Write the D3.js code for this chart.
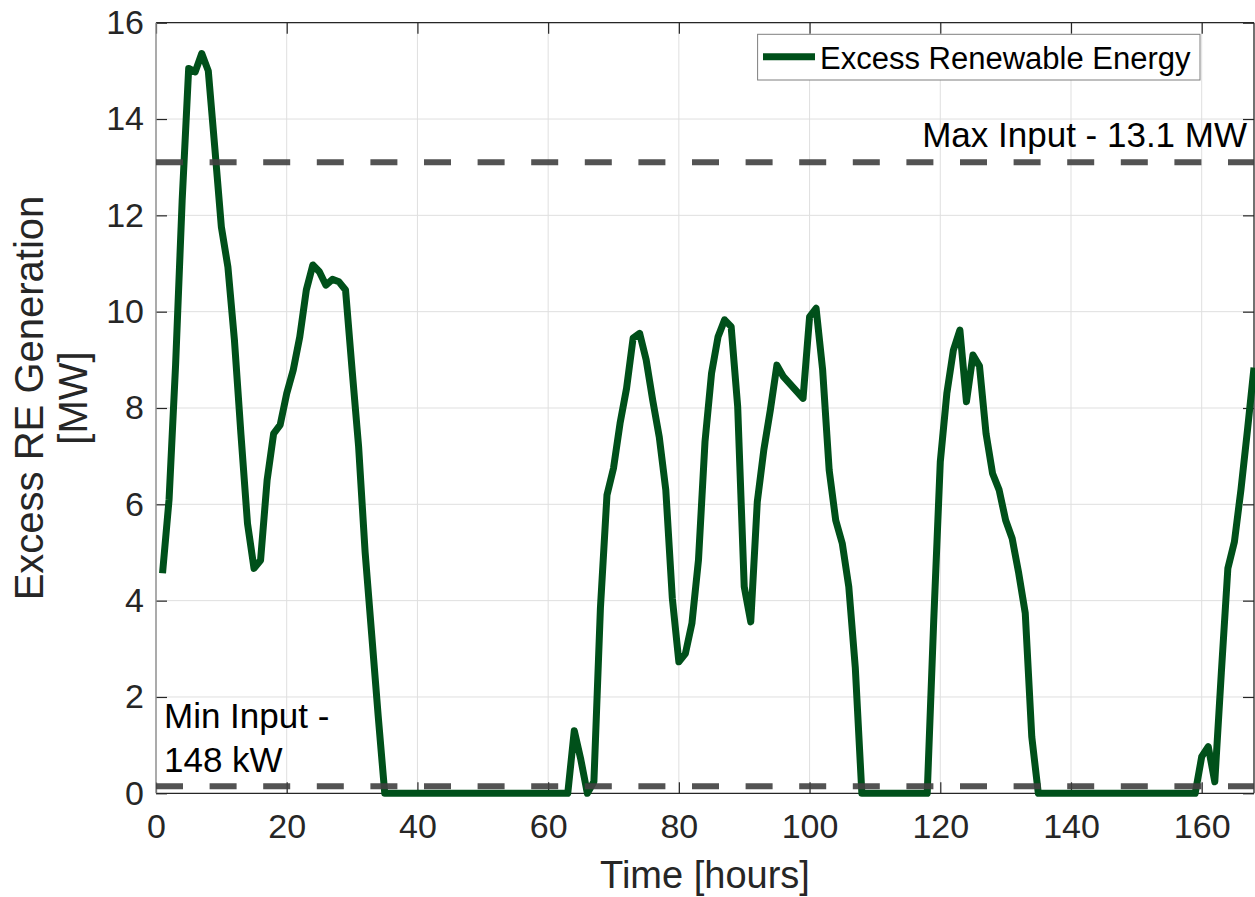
<!DOCTYPE html>
<html>
<head>
<meta charset="utf-8">
<script src="https://cdn.jsdelivr.net/npm/d3@7"></script>
<style>
  body { margin: 0; background: #fff; }
  text { font-family: "Liberation Sans", Arial, sans-serif; }
</style>
</head>
<body>
<div id="chart"></div>
<script>
// Excess renewable energy, one value per hour (hours 1..168), MW
let excessMW = [
  4.57, 6.1, 8.9, 12.3, 15.05, 14.98, 15.36, 15.0, 13.4, 11.76,
  10.93, 9.41, 7.45, 5.6, 4.67, 4.84, 6.5, 7.47, 7.65, 8.3,
  8.79, 9.48, 10.45, 10.97, 10.83, 10.55, 10.67, 10.62, 10.45, 8.8,
  7.2, 5.0, 3.3, 1.6, 0, 0, 0, 0, 0, 0,
  0, 0, 0, 0, 0, 0, 0, 0, 0, 0,
  0, 0, 0, 0, 0, 0, 0, 0, 0, 0,
  0, 0, 0, 1.3, 0.7, 0, 0.24, 3.85, 6.19, 6.75,
  7.68, 8.41, 9.45, 9.55, 9.0, 8.16, 7.4, 6.3, 4.05, 2.73,
  2.9, 3.53, 4.84, 7.3, 8.72, 9.48, 9.83, 9.69, 8.03, 4.29,
  3.56, 6.05, 7.13, 7.96, 8.89, 8.65, 8.5, 8.35, 8.2, 9.89,
  10.07, 8.79, 6.71, 5.67, 5.19, 4.29, 2.6, 0, 0, 0,
  0, 0, 0, 0, 0, 0, 0, 0, 3.6, 6.88,
  8.3, 9.2, 9.62, 8.13, 9.1, 8.87, 7.47, 6.64, 6.3, 5.67,
  5.29, 4.57, 3.74, 1.17, 0, 0, 0, 0, 0, 0,
  0, 0, 0, 0, 0, 0, 0, 0, 0, 0,
  0, 0, 0, 0, 0, 0, 0, 0, 0, 0.76,
  0.97, 0.24, 2.5, 4.67, 5.22, 6.3, 7.54, 8.84
];

// electrolyser limits (MW)
let maxInput = 13.1;
let minInput = 0.148;

let xTicks = [0, 20, 40, 60, 80, 100, 120, 140, 160];
let yTicks = [0, 2, 4, 6, 8, 10, 12, 14, 16];

let width = 1255;
let height = 897;
let margin = {top: 22.7, right: 1, left: 156, bottom: 103.7};

let x = d3.scaleLinear().domain([0, 168]).range([margin.left, width - margin.right]);
let y = d3.scaleLinear().domain([0, 16]).range([height - margin.bottom, margin.top]);

let svg = d3.select("#chart").append("svg")
  .attr("width", width)
  .attr("height", height);

// grid
svg.append("g").selectAll("line.gx")
  .data(xTicks.slice(1))
  .enter().append("line")
  .attr("x1", d => x(d)).attr("x2", d => x(d))
  .attr("y1", y(0)).attr("y2", y(16))
  .attr("stroke", "#dfdfdf").attr("stroke-width", 1);

svg.append("g").selectAll("line.gy")
  .data(yTicks.slice(1))
  .enter().append("line")
  .attr("x1", x(0)).attr("x2", x(168))
  .attr("y1", d => y(d)).attr("y2", d => y(d))
  .attr("stroke", "#dfdfdf").attr("stroke-width", 1);

// axes, matlab style ticks pointing inwards
function styleAxis(g) {
  g.select(".domain").remove();
  g.selectAll(".tick line").attr("stroke", "#262626").attr("stroke-width", 1.2);
  g.selectAll(".tick text").attr("fill", "#262626").style("font-size", "34px");
}

svg.append("g")
  .attr("transform", "translate(0," + y(0) + ")")
  .call(d3.axisBottom(x).tickValues(xTicks).tickSizeInner(-11).tickSizeOuter(0).tickPadding(21))
  .call(styleAxis);

svg.append("g")
  .attr("transform", "translate(0," + y(16) + ")")
  .call(d3.axisTop(x).tickValues(xTicks).tickSizeInner(-11).tickSizeOuter(0).tickFormat(""))
  .call(styleAxis);

svg.append("g")
  .attr("transform", "translate(" + x(0) + ",0)")
  .call(d3.axisLeft(y).tickValues(yTicks).tickSizeInner(-11).tickSizeOuter(0).tickPadding(12))
  .call(styleAxis);

svg.append("g")
  .attr("transform", "translate(" + x(168) + ",0)")
  .call(d3.axisRight(y).tickValues(yTicks).tickSizeInner(-11).tickSizeOuter(0).tickFormat(""))
  .call(styleAxis);

// box
svg.append("line").attr("x1", x(0)).attr("x2", x(168)).attr("y1", y(0)).attr("y2", y(0))
  .attr("stroke", "#262626").attr("stroke-width", 1.3);
svg.append("line").attr("x1", x(0)).attr("x2", x(168)).attr("y1", y(16)).attr("y2", y(16))
  .attr("stroke", "#262626").attr("stroke-width", 1.3);
svg.append("line").attr("x1", x(168)).attr("x2", x(168)).attr("y1", y(0)).attr("y2", y(16))
  .attr("stroke", "#262626").attr("stroke-width", 1.3);
svg.append("line").attr("x1", x(0)).attr("x2", x(0)).attr("y1", y(0)).attr("y2", y(16))
  .attr("stroke", "#8f8f8f").attr("stroke-width", 1.5);

// excess energy line
let line = d3.line()
  .x((d, i) => x(i + 1))
  .y(d => y(d));

svg.append("path")
  .datum(excessMW)
  .attr("d", line)
  .attr("fill", "none")
  .attr("stroke", "#00501a")
  .attr("stroke-width", 7)
  .attr("stroke-linejoin", "round");

// limit lines
svg.append("g").selectAll("line.limit")
  .data([maxInput, minInput])
  .enter().append("line")
  .attr("x1", x(0)).attr("x2", x(168))
  .attr("y1", d => y(d)).attr("y2", d => y(d))
  .attr("stroke", "#404040")
  .attr("stroke-opacity", 0.9)
  .attr("stroke-width", 6)
  .attr("stroke-dasharray", "27,26.6");

svg.append("text")
  .attr("x", 1247).attr("y", 146.7)
  .attr("text-anchor", "end")
  .style("font-size", "35px")
  .text("Max Input - 13.1 MW");

let minLabel = svg.append("text")
  .attr("x", 164).attr("y", 727.7)
  .style("font-size", "35px");
minLabel.append("tspan").attr("x", 164).text("Min Input -");
minLabel.append("tspan").attr("x", 164).attr("dy", 44).text("148 kW");

// axis titles
svg.append("text")
  .attr("x", (x(0) + x(168)) / 2).attr("y", 888)
  .attr("text-anchor", "middle")
  .attr("fill", "#262626")
  .style("font-size", "38px")
  .text("Time [hours]");

let yTitle = svg.append("text")
  .attr("transform", "translate(43,398) rotate(-90)")
  .attr("text-anchor", "middle")
  .attr("fill", "#262626")
  .style("font-size", "40px");
yTitle.append("tspan").attr("x", 0).attr("y", 0).text("Excess RE Generation");
yTitle.append("tspan").attr("x", 0).attr("y", 44).text("[MW]");

// legend
let legend = svg.append("g");
legend.append("rect")
  .attr("x", 757.6).attr("y", 34.3)
  .attr("width", 442.4).attr("height", 45.7)
  .attr("fill", "#fff")
  .attr("stroke", "#7f7f7f").attr("stroke-width", 1);
legend.append("line")
  .attr("x1", 763).attr("x2", 815)
  .attr("y1", 56.7).attr("y2", 56.7)
  .attr("stroke", "#00501a").attr("stroke-width", 7);
legend.append("text")
  .attr("x", 820).attr("y", 68.5)
  .style("font-size", "31px")
  .text("Excess Renewable Energy");
</script>
</body>
</html>
